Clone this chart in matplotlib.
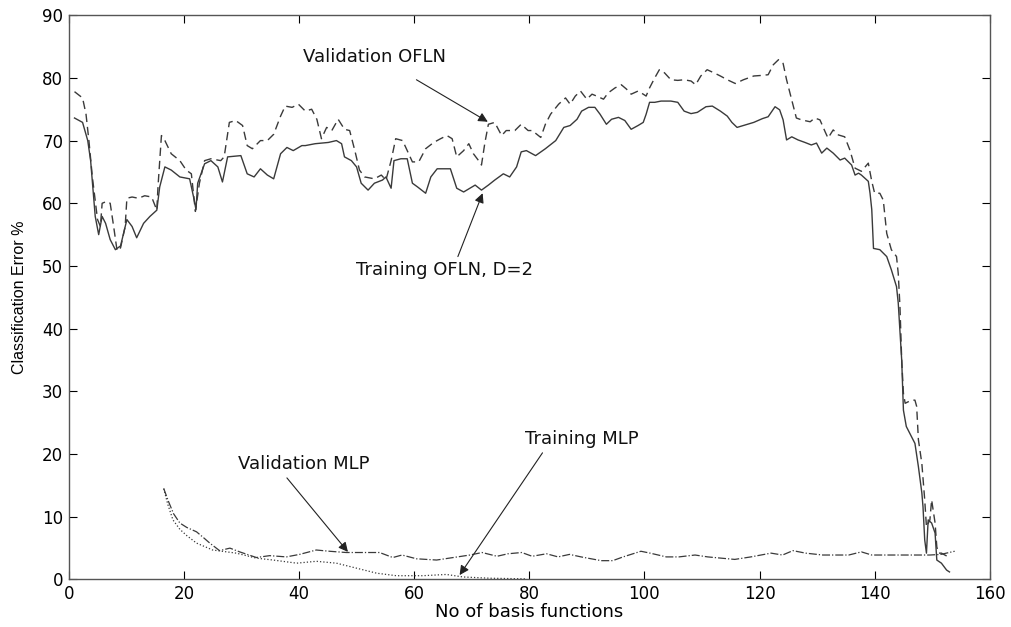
import matplotlib
matplotlib.use('Agg')
import matplotlib.pyplot as plt

# Training OFLN, D=2 (solid)
train_ofln_x = [1, 2.4, 3.3, 3.8, 4.6, 5.2, 5.8, 6.4, 7.2, 8.1, 9, 10.1, 11, 11.8, 13, 14.1,
                15.3, 15.8, 16.7, 17.8, 19.3, 21, 21.8, 22.1, 22.4, 23.6, 24.7, 25.9, 26.7,
                27.6, 29.9, 31, 32.2, 33.3, 34.5, 35.6, 36.8, 37.9, 39, 40.5,
                41.1, 42.8, 45.1, 46.5, 47.4, 47.9, 49.1, 50, 50.8, 52, 53.1, 54.5, 55.1, 56,
                56.5, 57.7, 58.8, 59.7, 60.6, 62, 62.9, 64, 66.3, 67.4, 68.6, 69.7, 70.6,
                71.7, 72.9, 74, 75.5, 76.6, 77.8, 78.6, 79.5,
                81.1, 82.8, 84.6, 86, 87.1, 88.3, 89.1, 90.3, 91.4, 92.3, 93.4, 94.3, 95.5,
                96.6, 97.7, 98.9, 99.8, 100.3, 100.9, 101.8, 102.9, 104.6, 105.8, 106.9,
                108.1, 109.2, 110.7, 111.8, 113.2, 114.4, 115.2, 116.1, 117.2, 119,
                120.5, 121.5, 122.7, 123.5, 124.1, 124.7, 125.6, 126.7, 127.9, 129, 129.9,
                130.8, 131.7, 132.8, 134, 134.8, 136, 136.6, 137.2, 137.7, 138.9, 139.2,
                139.5, 139.8, 140.9, 142.1, 142.9, 143.8, 144.1, 144.7, 145, 145.5, 146.4,
                147, 147.6, 148.2, 148.4, 148.7, 149, 149.3, 149.9, 150.5, 150.8, 151.6,
                152.5, 153]
train_ofln_y = [73.6, 72.9, 70, 66.8, 57.9, 55, 57.9, 56.8, 54.2, 52.6, 53.2, 57.4, 56.3, 54.5,
                56.8, 57.9, 58.9, 62.6, 65.8, 65.3, 64.2, 63.9, 60.5, 59, 63.2, 66.3, 66.8,
                65.8, 63.4, 67.4, 67.6, 64.7, 64.2, 65.5, 64.5, 63.9, 67.9, 68.9, 68.4, 69.2,
                69.2, 69.5, 69.7, 70, 69.5, 67.4, 66.8, 65.8, 63.2, 62.1, 63.2, 63.7, 64.2,
                62.4, 66.8, 67.1, 67.1, 63.2, 62.6, 61.6, 64.2, 65.5, 65.5, 62.4, 61.8, 62.4,
                62.9, 62.1, 62.9, 63.7, 64.7, 64.2, 65.8, 68.2, 68.4,
                67.6, 68.7, 70, 72.1, 72.4, 73.4, 74.7, 75.3, 75.3, 74.2, 72.6, 73.4, 73.7,
                73.2, 71.8, 72.4, 72.9, 74.2, 76.1, 76.1, 76.3, 76.3, 76.1, 74.7, 74.3, 74.5,
                75.4, 75.5, 74.7, 73.9, 72.9, 72.1, 72.4, 72.9,
                73.5, 73.8, 75.4, 74.9, 73.3, 70.1, 70.6, 70.1, 69.7, 69.3, 69.6, 68, 68.8,
                68, 66.9, 67.2, 66.1, 64.5, 64.8, 64.5, 63.5, 61.6, 59, 52.8, 52.6, 51.5,
                49.4, 46.7, 44.1, 35, 27, 24.4, 22.8, 21.7, 18, 13.8, 11.6, 6.3, 4.2, 9.5, 9,
                7.4, 3.1, 2.6, 1.5, 1.2]

# Validation OFLN (dashed)
val_ofln_x = [1, 2.4, 3, 3.5, 4.1, 5, 5.5, 5.8, 6.6, 7.2, 7.8, 8.4, 9, 9.8, 10.1, 11, 12.1,
              13.2, 14.4, 15.3, 15.5, 16.1, 16.7, 17.8, 19.3, 20.4, 21.3, 22, 22.7, 23.6,
              24.7, 26.4, 27, 27.9, 29, 30.2, 31, 31.9, 33.3, 34.5, 35.6, 36.8, 37.6, 38.8,
              39.9,
              41.1, 42.2, 43.1, 43.9, 44.8, 45.7, 46.8, 47.9, 48.8, 49.7, 50.5, 51.4, 53.1,
              54.3, 55.1, 56, 56.8, 58, 58.8, 59.7, 60.8, 62, 63.4, 64.6, 65.7, 66.6, 67.4,
              68.6, 69.5, 70.3, 71.2, 71.7, 72.3, 72.9, 74, 75.2, 76, 77.5, 78.6, 79.8,
              80.5, 82, 82.8, 83.7, 85.1, 86.3, 87.1, 88, 88.9, 90, 90.9, 91.7, 92.9, 93.7,
              94.9, 96, 96.9, 97.7, 98.9, 99.8, 100.3, 100.9, 101.8, 102.6, 103.5, 104.6,
              105.8, 106.9, 108.1, 108.9, 109.8, 110.9, 112.1, 113.2, 114.4, 115.8, 117.2,
              119,
              120.5, 121.5, 122.4, 123.3, 124.1, 124.7, 125.6, 126.4, 127.3, 128.8, 129.6,
              130.5, 131.4, 131.9, 132.8, 133.7, 134.8, 135.7, 136.6, 137.7, 138.9, 139.5,
              140, 140.9, 141.5, 142.1, 142.9, 143.8, 144.1, 144.4, 144.7, 145, 145.3,
              146.4, 147, 147.3, 147.6, 148.2, 148.7, 149, 149.6, 149.9, 150.5, 150.8,
              151.1, 151.6, 152.8]
val_ofln_y = [77.8, 76.8, 74.2, 70, 64.2, 57.4, 56.3, 60, 60.3, 60, 56.3, 52.4, 52.9, 56.3,
              60.8, 61, 60.8, 61.2, 61, 58.9, 62.6, 70.8, 70, 67.9, 66.8, 65.3, 64.7, 58.7,
              63.2, 66.8, 67.1, 66.8, 67.4, 72.9, 73.2, 72.4, 69.2, 68.7, 70, 70, 71, 73.9,
              75.5, 75.3, 75.8,
              74.7, 75, 73.4, 70.3, 72.1, 71.6, 73.4, 71.8, 71.6, 68.4, 65.3, 64.2, 63.9,
              64.5, 63.7, 66.8, 70.3, 70, 68.4, 66.6, 66.6, 68.7, 69.7, 70.3, 70.8, 70.3,
              67.4, 68.4, 69.5, 67.9, 66.8, 66.1, 69.7, 72.6, 72.9, 70.8, 71.6, 71.6, 72.6,
              71.6,
              71.6, 70.5, 72.6, 74.2, 75.8, 76.8, 75.8, 77.1, 77.9, 76.6, 77.4, 77.1, 76.6,
              77.6, 78.4, 78.9, 78.2, 77.4, 77.9, 77.4, 77.1, 78.4, 80, 81.3, 80.8, 79.7,
              79.6, 79.7, 79.5, 78.9, 80.3, 81.3, 80.8, 80.3, 79.7, 79.1, 79.7, 80.3,
              80.4, 80.5, 82.1, 82.9, 82.3, 79.7, 76.5, 73.6, 73.3, 73, 73.6, 73.3, 71.4,
              70.4, 71.7, 70.9, 70.6, 68.5, 65.6, 65.1, 66.4, 63.5, 61.6, 61.6, 60.5, 55.2,
              52.6, 51.5, 48.8, 43.5, 35, 29.7, 28.1, 28.6, 28.6, 27.6, 22.3, 18.5, 12.7,
              8.4, 9.5, 12.7, 9, 5.2, 4.2, 4.2, 3.6]

# Validation MLP (dash-dot)
val_mlp_x = [16.5, 17.3, 18.2, 19.3, 20.5, 22.2, 23.5, 24.5, 26.2, 28, 29.7, 32.6, 34.9, 37.8,
             40.1, 43, 45.3, 48.2, 54, 56.3, 57.9, 60.4, 63.9, 66.8, 69.7, 71.8, 74.4, 76.3,
             78.7, 80.5, 83, 85, 87, 89, 92.5, 94.5, 96.3, 99.4, 101, 103.8, 106, 108.8, 111,
             115.7, 118.5, 122, 124, 125.8, 128, 131, 135.5, 137.7, 139.5, 144.5, 149.6,
             151.5, 153.9]
val_mlp_y = [14.5, 12.5, 10.5, 9.0, 8.3, 7.6, 6.6, 5.8, 4.6, 5.0, 4.4, 3.5, 3.8, 3.6, 4.0, 4.7,
             4.5, 4.3, 4.3, 3.5, 3.9, 3.3, 3.1, 3.5, 3.9, 4.3, 3.7, 4.1, 4.3, 3.7, 4.1, 3.6,
             4.0, 3.6, 3.0, 3.0, 3.6, 4.5, 4.2, 3.6, 3.6, 3.9, 3.6, 3.2, 3.6, 4.2, 3.9, 4.6,
             4.2, 3.9, 3.9, 4.4, 3.9, 3.9, 3.9, 4.0, 4.5]

# Training MLP (dotted)
train_mlp_x = [16.5, 17.2, 18.1, 19.3, 20.5, 22.2, 25, 29.1, 32.6, 35.5, 39.6, 43, 46.5, 50,
               53.5, 56.9, 61.5, 65.6, 68.5, 73.1, 79.4]
train_mlp_y = [14.5, 12.0, 9.5, 8.0, 7.0, 5.8, 4.7, 4.2, 3.4, 3.1, 2.6, 2.9, 2.6, 1.8, 1.0,
               0.6, 0.6, 0.8, 0.4, 0.2, 0.1]

line_color = '#3a3a3a'


def label_with_arrow(ax, text, head, tail, pos):
    ax.text(pos[0], pos[1], text, ha='center', va='center', fontsize=13,
            family='DejaVu Sans', color='#111111')
    ax.annotate('', xy=head, xytext=tail,
                arrowprops=dict(arrowstyle='-|>', color='#222222', lw=0.8,
                                mutation_scale=14, shrinkA=0, shrinkB=0))


def main():
    plt.rcParams['font.family'] = ['Liberation Sans', 'DejaVu Sans']
    fig = plt.figure(figsize=(10.11, 6.27), dpi=100)
    ax = fig.add_axes([0.068, 0.0758, 0.911, 0.9])

    ax.plot(train_ofln_x, train_ofln_y, color=line_color, lw=1.0, ls='-')
    ax.plot(val_ofln_x, val_ofln_y, color=line_color, lw=1.0, ls=(0, (6, 3.5)))
    ax.plot(val_mlp_x, val_mlp_y, color=line_color, lw=0.9, ls='-.')
    ax.plot(train_mlp_x, train_mlp_y, color=line_color, lw=0.9, ls=':')

    ax.set_xlim(0, 160)
    ax.set_ylim(0, 90)
    ax.set_xticks(range(0, 161, 20))
    ax.set_yticks(range(0, 91, 10))
    ax.tick_params(direction='in', length=6, width=0.8, top=True, right=True,
                   labelsize=12, pad=4)
    for lab in ax.get_xticklabels() + ax.get_yticklabels():
        lab.set_family('DejaVu Sans')
    for s in ax.spines.values():
        s.set_color('#555555')
        s.set_linewidth(1.0)

    ax.set_xlabel('No of basis functions', fontsize=13, family='DejaVu Sans', labelpad=0)
    ax.set_ylabel('Classification Error %', fontsize=11.5, labelpad=11)

    label_with_arrow(ax, 'Validation OFLN', (72.8, 73.0), (60.4, 79.7), (53.2, 83.3))
    label_with_arrow(ax, 'Training OFLN, D=2', (71.9, 61.6), (67.6, 51.5), (65.3, 49.3))
    label_with_arrow(ax, 'Validation MLP', (48.5, 4.4), (37.9, 16.2), (40.9, 18.4))
    label_with_arrow(ax, 'Training MLP', (67.9, 0.7), (82.3, 20.2), (89.2, 22.4))

    fig.savefig('out.png', dpi=100)


if __name__ == '__main__':
    main()
